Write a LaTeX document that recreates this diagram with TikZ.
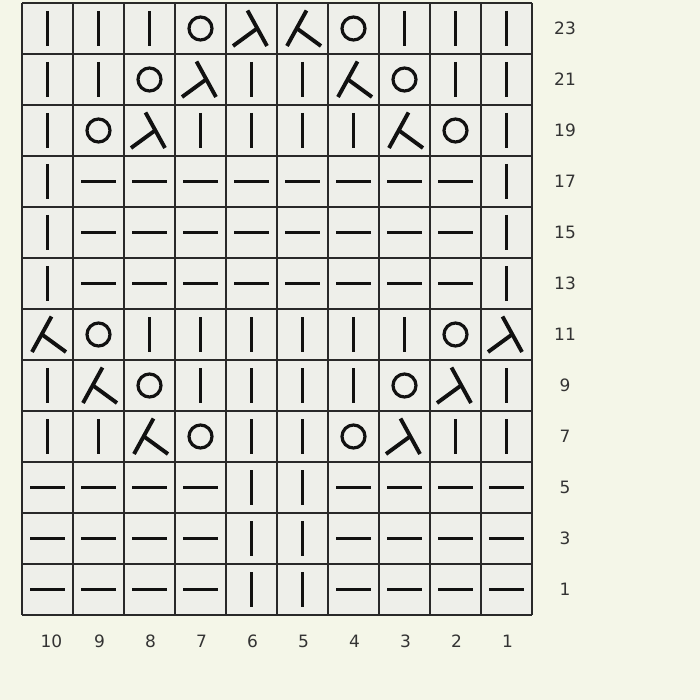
\documentclass[tikz,border=0pt]{standalone}
\usepackage{fontspec}
\setmainfont{DejaVu Sans}
\definecolor{pagebg}{HTML}{F4F6E8}
\definecolor{cellbg}{HTML}{EEEFEA}
\definecolor{ink}{HTML}{111111}
\definecolor{labelink}{HTML}{333333}
\tikzset{
  x=1pt, y=-1pt,
  symline/.style={draw=ink, line width=3.9pt},
  gridline/.style={draw=ink!90, line width=1.8pt},
  lbl/.style={font=\fontsize{17}{17}\selectfont, text=labelink, inner sep=0pt},
  symb/.pic={\draw[symline] (0,-17.5) -- (0,17.5);},
  symd/.pic={\draw[symline] (-17.5,0) -- (17.5,0);},
  symo/.pic={\draw[draw=ink, line width=3.2pt] (0,0) circle (11.5);},
  symR/.pic={\draw[symline] (-4,-18) -- (15.5,17.5); \draw[symline] (5.5,0) -- (-18.5,17.5);},
  symL/.pic={\draw[symline] (4,-18) -- (-15.5,17.5); \draw[symline] (-5.5,0) -- (18.5,17.5);},
}
\begin{document}
\begin{tikzpicture}
\useasboundingbox (0,0) rectangle (700,700);
\fill[pagebg] (0,0) rectangle (700,700);
\fill[cellbg] (22,3) rectangle (532,615);
\foreach \i in {0,...,10} \draw[gridline] ({22+51*\i},3) -- ({22+51*\i},615);
\foreach \j in {0,...,12} \draw[gridline] (22,{3+51*\j}) -- (532,{3+51*\j});
\foreach \row [count=\r from 0] in {
  {b,b,b,o,R,L,o,b,b,b},
  {b,b,o,R,b,b,L,o,b,b},
  {b,o,R,b,b,b,b,L,o,b},
  {b,d,d,d,d,d,d,d,d,b},
  {b,d,d,d,d,d,d,d,d,b},
  {b,d,d,d,d,d,d,d,d,b},
  {L,o,b,b,b,b,b,b,o,R},
  {b,L,o,b,b,b,b,o,R,b},
  {b,b,L,o,b,b,o,R,b,b},
  {d,d,d,d,b,b,d,d,d,d},
  {d,d,d,d,b,b,d,d,d,d},
  {d,d,d,d,b,b,d,d,d,d}}{
  \foreach \s [count=\c from 0] in \row {
    \pic at ({47.5+51*\c},{28.5+51*\r}) {sym\s};
  }
}
\foreach \n [count=\r from 0] in {23,21,19,17,15,13,11,9,7,5,3,1}
  \node[lbl] (rl\n) at (565,{28.5+51*\r}) {\n};
\foreach \n [count=\c from 0] in {10,9,8,7,6,5,4,3,2,1}
  \node[lbl] (cl\n) at ({48.5+51*\c+ifthenelse(\c==0,3,0)},641) {\n};
\end{tikzpicture}
\end{document}
